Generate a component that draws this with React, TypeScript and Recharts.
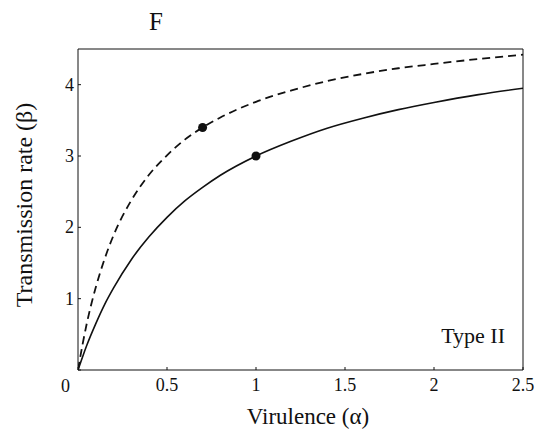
import { ComposedChart, Line, Scatter, XAxis, YAxis } from "recharts";

// virulence (alpha) samples and the two read-off transmission curves
const alpha = [0, 0.025, 0.05, 0.1, 0.15, 0.2, 0.3, 0.4, 0.5, 0.6, 0.7, 0.8, 1.0, 1.2, 1.4, 1.6, 1.8, 2.0, 2.25, 2.5];
const solidBeta = [0, 0.18, 0.35, 0.65, 0.92, 1.15, 1.55, 1.87, 2.14, 2.37, 2.56, 2.73, 3.0, 3.21, 3.39, 3.53, 3.65, 3.75, 3.86, 3.95];
const dashedBeta = [0, 0.35, 0.66, 1.16, 1.56, 1.89, 2.38, 2.74, 3.01, 3.23, 3.4, 3.54, 3.76, 3.92, 4.05, 4.15, 4.23, 4.29, 4.36, 4.42];
const optimumPoints = [
  { a: 0.7, b: 3.4 },
  { a: 1.0, b: 3.0 },
];
const xTicks = [0, 0.5, 1, 1.5, 2, 2.5];
const yTicks = [0, 1, 2, 3, 4];

const data = alpha.map((a, i) => ({ a, solid: solidBeta[i], dashed: dashedBeta[i] }));

const FONT = "'Liberation Serif', 'DejaVu Serif', serif";

// ticks point inward (negative tickSize), so label offsets are set by hand
function XTick({ x, y, payload }: any) {
  if (payload.value === 0) return <g />;
  return (
    <text x={x} y={y + 22} textAnchor="middle" fontFamily={FONT} fontSize={18} fill="#111">
      {payload.value}
    </text>
  );
}

function YTick({ x, y, payload }: any) {
  const isZero = payload.value === 0;
  return (
    <text x={isZero ? x - 9 : x - 5} y={isZero ? y + 22 : y + 6} textAnchor="end" fontFamily={FONT} fontSize={18} fill="#111">
      {payload.value}
    </text>
  );
}

export default function App() {
  return (
    <div style={{ position: "absolute", left: 0, top: 0, width: 547, height: 439, background: "#fff" }}>
      <ComposedChart width={547} height={439} data={data} margin={{ top: 49, right: 24, bottom: 39, left: 0 }}>
        <XAxis xAxisId="x" dataKey="a" type="number" domain={[0, 2.5]} ticks={xTicks} height={30}
          tickSize={-3} tick={<XTick />} stroke="#111" allowDataOverflow />
        <XAxis xAxisId="top" dataKey="a" orientation="top" type="number" domain={[0, 2.5]} ticks={xTicks} mirror
          tick={false} tickLine={false} stroke="#111" allowDataOverflow />
        <YAxis yAxisId="y" type="number" domain={[0, 4.5]} ticks={yTicks} width={78}
          tickSize={-3} tick={<YTick />} stroke="#111" allowDataOverflow />
        <YAxis yAxisId="right" orientation="right" type="number" domain={[0, 4.5]} ticks={yTicks} mirror
          tick={false} tickLine={false} stroke="#111" allowDataOverflow />
        <Line xAxisId="x" yAxisId="y" dataKey="dashed" type="monotone" stroke="#111" strokeWidth={1.8}
          strokeDasharray="8 5" dot={false} isAnimationActive={false} />
        <Line xAxisId="top" yAxisId="right" dataKey="solid" type="monotone" stroke="#111" strokeWidth={1.6}
          dot={false} isAnimationActive={false} />
        <Scatter xAxisId="x" yAxisId="y" data={optimumPoints} dataKey="b" isAnimationActive={false}
          shape={(p: any) => <circle cx={p.cx} cy={p.cy} r={4.5} fill="#111" />} />
      </ComposedChart>
      <svg width={547} height={439} style={{ position: "absolute", left: 0, top: 0, pointerEvents: "none" }}>
        <text x={156} y={30} textAnchor="middle" fontFamily={FONT} fontSize={25} fill="#111">F</text>
        <text x={308} y={424} textAnchor="middle" fontFamily={FONT} fontSize={23} fill="#111">Virulence (α)</text>
        <text transform="translate(32,205) rotate(-90)" textAnchor="middle" fontFamily={FONT} fontSize={24} fill="#111">
          Transmission rate (β)
        </text>
        <text x={505} y={343} textAnchor="end" fontFamily={FONT} fontSize={22} fill="#111">Type II</text>
      </svg>
    </div>
  );
}
